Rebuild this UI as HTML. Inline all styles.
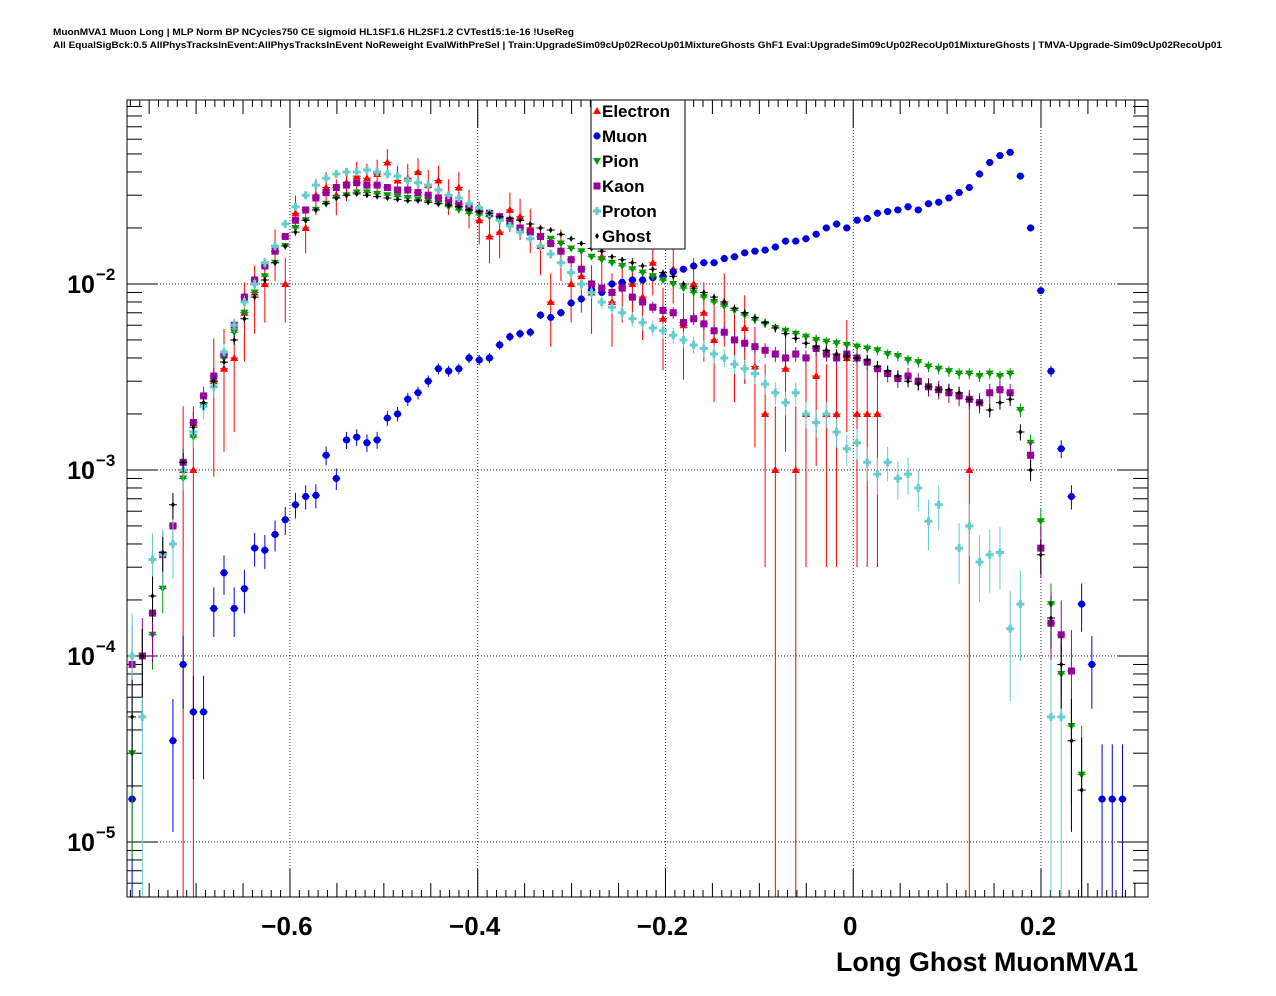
<!DOCTYPE html>
<html><head><meta charset="utf-8"><style>
html,body{margin:0;padding:0;background:#fff;}
svg{display:block;font-family:"Liberation Sans",Arial,sans-serif;}
</style></head><body>
<svg id="chart" width="1276" height="996" viewBox="0 0 1276 996" xmlns="http://www.w3.org/2000/svg">
<rect x="0" y="0" width="1276" height="996" fill="#fff"/>
<text x="53" y="35" font-size="9.6" font-weight="bold" textLength="521" lengthAdjust="spacingAndGlyphs">MuonMVA1 Muon Long | MLP Norm BP NCycles750 CE sigmoid HL1SF1.6 HL2SF1.2 CVTest15:1e-16 !UseReg</text>
<text x="53" y="48" font-size="9.6" font-weight="bold" textLength="1169" lengthAdjust="spacingAndGlyphs">All EqualSigBck:0.5 AllPhysTracksInEvent:AllPhysTracksInEvent NoReweight EvalWithPreSel | Train:UpgradeSim09cUp02RecoUp01MixtureGhosts GhF1 Eval:UpgradeSim09cUp02RecoUp01MixtureGhosts | TMVA-Upgrade-Sim09cUp02RecoUp01</text>
<g id="grid"></g>
<g id="axes"></g>
<g id="series"></g>
<rect x="127" y="100" width="1021" height="797" fill="none" stroke="#000" stroke-width="1"/>
<text x="1138" y="971" font-size="27" font-weight="bold" text-anchor="end" textLength="302" lengthAdjust="spacingAndGlyphs">Long Ghost MuonMVA1</text>
<g id="legend"></g>
</svg>
<script>
const xMin=-0.7736, xMax=0.314, nBins=100;
const yLogMin=-5.296, yLogMax=-1.011;
const xTicks=[-0.6,-0.4,-0.2,0,0.2];
const xTickLabels=["\u22120.6","\u22120.4","\u22120.2","0","0.2"];
const yDecades=[-5,-4,-3,-2];
const seriesNames=["Electron","Muon","Pion","Kaon","Proton","Ghost"];
const electron=[null,null,null,null,null,1.0e-3,1.0e-3,null,3.0e-3,3.5e-3,4e-3,7e-3,9e-3,1.0e-2,1.5e-2,1.0e-2,2.4e-2,2.0e-2,3.0e-2,3.3e-2,3.0e-2,3.5e-2,3.8e-2,3.7e-2,3.9e-2,4.5e-2,3.6e-2,3.7e-2,4.0e-2,3.4e-2,3.6e-2,3.0e-2,3.3e-2,2.6e-2,2.2e-2,1.8e-2,1.9e-2,2.5e-2,2.3e-2,2.0e-2,1.6e-2,8e-3,1.5e-2,1.0e-2,1.1e-2,9e-3,1.4e-2,8e-3,1.0e-2,1.0e-2,8.5e-3,1.3e-2,6.5e-3,1.2e-2,6e-3,1.0e-2,7e-3,5e-3,8e-3,5e-3,5.8e-3,3.6e-3,2.0e-3,1e-3,3.5e-3,1.0e-3,2.0e-3,3.2e-3,2.0e-3,2.0e-3,4.0e-3,2.0e-3,2.0e-3,2.0e-3,null,null,null,null,null,null,null,null,1.0e-3,null,null,null,null,null,null,null,null,null,null,null,null,null,null,null,null,null];
const muon=[1.7e-5,null,null,null,3.5e-5,9e-5,5e-5,5e-5,1.8e-4,2.8e-4,1.8e-4,2.3e-4,3.8e-4,3.7e-4,4.5e-4,5.4e-4,6.5e-4,7.2e-4,7.3e-4,1.2e-3,9e-4,1.45e-3,1.5e-3,1.4e-3,1.45e-3,1.9e-3,2.0e-3,2.4e-3,2.6e-3,3e-3,3.5e-3,3.4e-3,3.5e-3,4e-3,3.9e-3,4e-3,4.7e-3,5.2e-3,5.4e-3,5.5e-3,6.8e-3,6.6e-3,7e-3,7.9e-3,8.3e-3,9.3e-3,9e-3,1e-2,1.02e-2,1.05e-2,1.05e-2,1.08e-2,1.1e-2,1.16e-2,1.2e-2,1.25e-2,1.3e-2,1.3e-2,1.37e-2,1.4e-2,1.47e-2,1.5e-2,1.52e-2,1.58e-2,1.7e-2,1.7e-2,1.75e-2,1.85e-2,2.0e-2,2.1e-2,2.0e-2,2.2e-2,2.25e-2,2.4e-2,2.45e-2,2.5e-2,2.6e-2,2.5e-2,2.7e-2,2.75e-2,2.9e-2,3.1e-2,3.3e-2,3.9e-2,4.5e-2,4.9e-2,5.1e-2,3.8e-2,2.0e-2,9.2e-3,3.4e-3,1.3e-3,7.2e-4,1.9e-4,9e-5,1.7e-5,1.7e-5,1.7e-5,null,null];
const pion=[3e-5,1e-4,1.3e-4,2.3e-4,5e-4,9e-4,1.5e-3,2.2e-3,3.0e-3,4.0e-3,5.5e-3,7e-3,9e-3,1.1e-2,1.3e-2,1.6e-2,2.0e-2,2.2e-2,2.5e-2,2.7e-2,2.9e-2,3.0e-2,3.1e-2,3.1e-2,3.05e-2,3.0e-2,2.95e-2,2.9e-2,2.85e-2,2.8e-2,2.7e-2,2.6e-2,2.5e-2,2.4e-2,2.35e-2,2.3e-2,2.2e-2,2.1e-2,2.0e-2,1.9e-2,1.8e-2,1.75e-2,1.65e-2,1.55e-2,1.5e-2,1.4e-2,1.35e-2,1.3e-2,1.25e-2,1.2e-2,1.15e-2,1.1e-2,1.05e-2,1.0e-2,9.5e-3,9e-3,8.5e-3,8e-3,7.6e-3,7.2e-3,6.8e-3,6.4e-3,6.1e-3,5.8e-3,5.6e-3,5.4e-3,5.2e-3,5.0e-3,4.9e-3,4.8e-3,4.7e-3,4.6e-3,4.5e-3,4.4e-3,4.2e-3,4.1e-3,3.9e-3,3.8e-3,3.6e-3,3.5e-3,3.4e-3,3.3e-3,3.3e-3,3.2e-3,3.3e-3,3.2e-3,3.3e-3,2.1e-3,1.4e-3,5.3e-4,1.9e-4,8e-5,4.2e-5,2.3e-5,null,null,null,null,null,null];
const kaon=[9e-5,1.0e-4,1.7e-4,3.5e-4,5e-4,1.1e-3,1.8e-3,2.5e-3,3.2e-3,4.2e-3,6e-3,8.5e-3,1.05e-2,1.25e-2,1.5e-2,1.8e-2,2.2e-2,2.5e-2,2.9e-2,3.1e-2,3.3e-2,3.4e-2,3.5e-2,3.4e-2,3.4e-2,3.3e-2,3.2e-2,3.2e-2,3.1e-2,3.0e-2,2.9e-2,2.8e-2,2.7e-2,2.6e-2,2.5e-2,2.4e-2,2.3e-2,2.2e-2,2.0e-2,1.9e-2,1.8e-2,1.65e-2,1.5e-2,1.35e-2,1.2e-2,1.0e-2,9.5e-3,9e-3,9.5e-3,8.5e-3,8e-3,7.5e-3,7.2e-3,7e-3,6.2e-3,6.5e-3,6.1e-3,5.6e-3,5.5e-3,5.0e-3,4.8e-3,4.6e-3,4.4e-3,4.2e-3,4.0e-3,4.2e-3,4.0e-3,4.5e-3,4.2e-3,4.0e-3,4.2e-3,4.0e-3,3.8e-3,3.5e-3,3.3e-3,3.1e-3,3.2e-3,3.0e-3,2.8e-3,2.7e-3,2.6e-3,2.5e-3,2.4e-3,2.3e-3,2.6e-3,2.7e-3,2.6e-3,null,1.2e-3,3.8e-4,1.5e-4,1.3e-4,8.3e-5,null,null,null,null,null,null,null];
const proton=[1e-4,4.7e-5,3.3e-4,3.5e-4,4.0e-4,1.0e-3,1.6e-3,2.2e-3,2.8e-3,4.3e-3,6.0e-3,8e-3,1.0e-2,1.3e-2,1.6e-2,2.1e-2,2.6e-2,3.0e-2,3.4e-2,3.7e-2,3.9e-2,4.0e-2,4.0e-2,4.1e-2,4.0e-2,3.9e-2,3.8e-2,3.6e-2,3.5e-2,3.4e-2,3.2e-2,3.0e-2,2.9e-2,2.7e-2,2.55e-2,2.4e-2,2.2e-2,2.05e-2,1.9e-2,1.75e-2,1.6e-2,1.45e-2,1.3e-2,1.15e-2,1.0e-2,9e-3,8e-3,7.5e-3,7e-3,6.5e-3,6.2e-3,5.8e-3,5.6e-3,5.3e-3,5e-3,4.7e-3,4.5e-3,4.2e-3,4e-3,3.7e-3,3.5e-3,3.3e-3,2.9e-3,2.6e-3,2.3e-3,2.6e-3,2.0e-3,1.8e-3,2.0e-3,1.6e-3,1.3e-3,1.4e-3,1.1e-3,9.5e-4,1.1e-3,9e-4,9.5e-4,8e-4,5.3e-4,6.5e-4,null,3.8e-4,5e-4,3.2e-4,3.5e-4,3.6e-4,1.4e-4,1.9e-4,null,null,4.7e-5,4.7e-5,null,null,null,null,null,null,null,null];
const ghost=[4.7e-5,1e-4,2.1e-4,3.6e-4,6.5e-4,1.1e-3,1.7e-3,2.3e-3,3.0e-3,3.8e-3,5e-3,6.5e-3,8.5e-3,1.05e-2,1.3e-2,1.6e-2,1.9e-2,2.2e-2,2.5e-2,2.7e-2,2.9e-2,3.0e-2,3.05e-2,3.0e-2,2.95e-2,2.9e-2,2.85e-2,2.8e-2,2.8e-2,2.75e-2,2.7e-2,2.65e-2,2.6e-2,2.5e-2,2.45e-2,2.4e-2,2.3e-2,2.25e-2,2.2e-2,2.1e-2,2.0e-2,1.95e-2,1.85e-2,1.75e-2,1.65e-2,1.55e-2,1.5e-2,1.4e-2,1.35e-2,1.3e-2,1.25e-2,1.2e-2,1.15e-2,1.1e-2,1.0e-2,9.5e-3,9e-3,8.5e-3,8e-3,7.4e-3,7e-3,6.6e-3,6.2e-3,5.8e-3,5.4e-3,5.1e-3,4.8e-3,4.6e-3,4.4e-3,4.2e-3,4.1e-3,4.0e-3,3.9e-3,3.6e-3,3.4e-3,3.2e-3,3.0e-3,2.9e-3,2.8e-3,2.7e-3,2.7e-3,2.6e-3,2.4e-3,2.3e-3,2.1e-3,2.3e-3,2.4e-3,1.6e-3,1.0e-3,3.5e-4,1.6e-4,9e-5,3.5e-5,1.9e-5,null,null,null,null,null,null];
const errScale=[0.038,0.004,0.004,0.006,0.007,0.004];

const L=127,R=1148,T=100,B=897;
const NS="http://www.w3.org/2000/svg";
function xs(v){return L+(v-xMin)/(xMax-xMin)*(R-L);}
function ys(v){const lg=Math.log10(v);return T+(yLogMax-lg)/(yLogMax-yLogMin)*(B-T);}
function mk(tag,attrs,parent){const e=document.createElementNS(NS,tag);for(const k in attrs)e.setAttribute(k,attrs[k]);parent.appendChild(e);return e;}
const grid=document.getElementById('grid'),axes=document.getElementById('axes'),sg=document.getElementById('series'),lg=document.getElementById('legend');
xTicks.forEach((t,i)=>{const x=xs(t);
 const g=mk('line',{x1:x,x2:x,y1:T,y2:B,stroke:'#000','stroke-width':0.8,'stroke-dasharray':'1,2'},grid);
 
 mk('line',{x1:x,x2:x,y1:B,y2:B-28,stroke:'#000'},axes);
 mk('line',{x1:x,x2:x,y1:T,y2:T+28,stroke:'#000'},axes);
 const tx=mk('text',{x:x-3,y:935,'font-size':26,'font-weight':'bold','text-anchor':'middle'},axes);
 tx.textContent=xTickLabels[i];
 
});
for(let v=-0.75;v<=0.31;v+=0.05){const r=Math.round(v*100)/100;if(Math.abs(r*5-Math.round(r*5))<1e-6)continue;const x=xs(r);if(x<L||x>R)continue;
 mk('line',{x1:x,x2:x,y1:B,y2:B-14,stroke:'#000'},axes);mk('line',{x1:x,x2:x,y1:T,y2:T+14,stroke:'#000'},axes);}
for(let v=-0.77;v<=0.31;v+=0.01){const r=Math.round(v*100)/100;if(Math.abs(r*20-Math.round(r*20))<1e-6)continue;const x=xs(r);if(x<L||x>R)continue;
 mk('line',{x1:x,x2:x,y1:B,y2:B-7,stroke:'#000'},axes);mk('line',{x1:x,x2:x,y1:T,y2:T+7,stroke:'#000'},axes);}
yDecades.forEach(d=>{const y=ys(Math.pow(10,d));
 const g=mk('line',{x1:L,x2:R,y1:y,y2:y,stroke:'#000','stroke-width':0.8,'stroke-dasharray':'1,2'},grid);
 
 mk('line',{x1:L,x2:L+30,y1:y,y2:y,stroke:'#000'},axes);mk('line',{x1:R,x2:R-30,y1:y,y2:y,stroke:'#000'},axes);
 const tx=mk('text',{x:81,y:y+9,'font-size':25,'font-weight':'bold','text-anchor':'middle'},axes);
 tx.textContent='10';
 
 const sup=mk('text',{x:96,y:y-4,'font-size':17,'font-weight':'bold'},axes);sup.textContent='\u2212'+(-d);
});
for(let d=-6;d<=-1;d++)for(let m=2;m<=9;m++){const v=m*Math.pow(10,d);const lv=Math.log10(v);if(lv<yLogMin||lv>yLogMax)continue;const y=ys(v);
 mk('line',{x1:L,x2:L+15,y1:y,y2:y,stroke:'#000'},axes);mk('line',{x1:R,x2:R-15,y1:y,y2:y,stroke:'#000'},axes);}
const colors=['#ff0000','#0000dd','#009900','#990099','#66cccc','#000000'];
function marker(type,x,y,c,parent){
 if(type===0)return mk('polygon',{points:`${x},${y-4} ${x-4},${y+3} ${x+4},${y+3}`,fill:c},parent);
 if(type===1)return mk('circle',{cx:x,cy:y,r:3.6,fill:c},parent);
 if(type===2)return mk('polygon',{points:`${x},${y+4} ${x-4},${y-3} ${x+4},${y-3}`,fill:c},parent);
 if(type===3)return mk('rect',{x:x-3.5,y:y-3.5,width:7,height:7,fill:c},parent);
 if(type===4)return mk('path',{d:`M${x-1.5},${y-4}h3v2.5h2.5v3h-2.5v2.5h-3v-2.5h-2.5v-3h2.5z`,fill:c},parent);
 return mk('polygon',{points:`${x},${y-3} ${x-2},${y} ${x},${y+3} ${x+2},${y}`,fill:c},parent);
}
const allSeries=[electron,muon,pion,kaon,proton,ghost];
const w=(xMax-xMin)/nBins;
allSeries.forEach((arr,si)=>{
 const g=mk('g',{},sg);
 
 
 arr.forEach((v,i)=>{if(v==null||v<=0)return;
  const xc=xMin+(i+0.5)*w;const x=xs(xc);const y=ys(v);
  const rel=errScale[si]/Math.sqrt(v);
  const yTop=ys(v*(1+rel));const yBot=rel>=0.98?B:Math.min(B,ys(v*(1-rel)));
  mk('line',{x1:x,x2:x,y1:Math.max(T,yTop),y2:yBot,stroke:colors[si],'stroke-width':1},g);
  mk('line',{x1:x-4,x2:x+4,y1:y,y2:y,stroke:colors[si],'stroke-width':1},g);
  const m=marker(si,x,y,colors[si],g);
  
  
 });
});
const box=mk('rect',{x:591,y:100,width:94,height:149,fill:'#fff',stroke:'#000','stroke-width':1},lg);

seriesNames.forEach((n,i)=>{const y=111+i*25;
 const m=marker(i,597,y,colors[i],lg);
 
 const t=mk('text',{x:602,y:y+6,'font-size':17,'font-weight':'bold'},lg);t.textContent=n;
 
});
</script>
</body></html>
